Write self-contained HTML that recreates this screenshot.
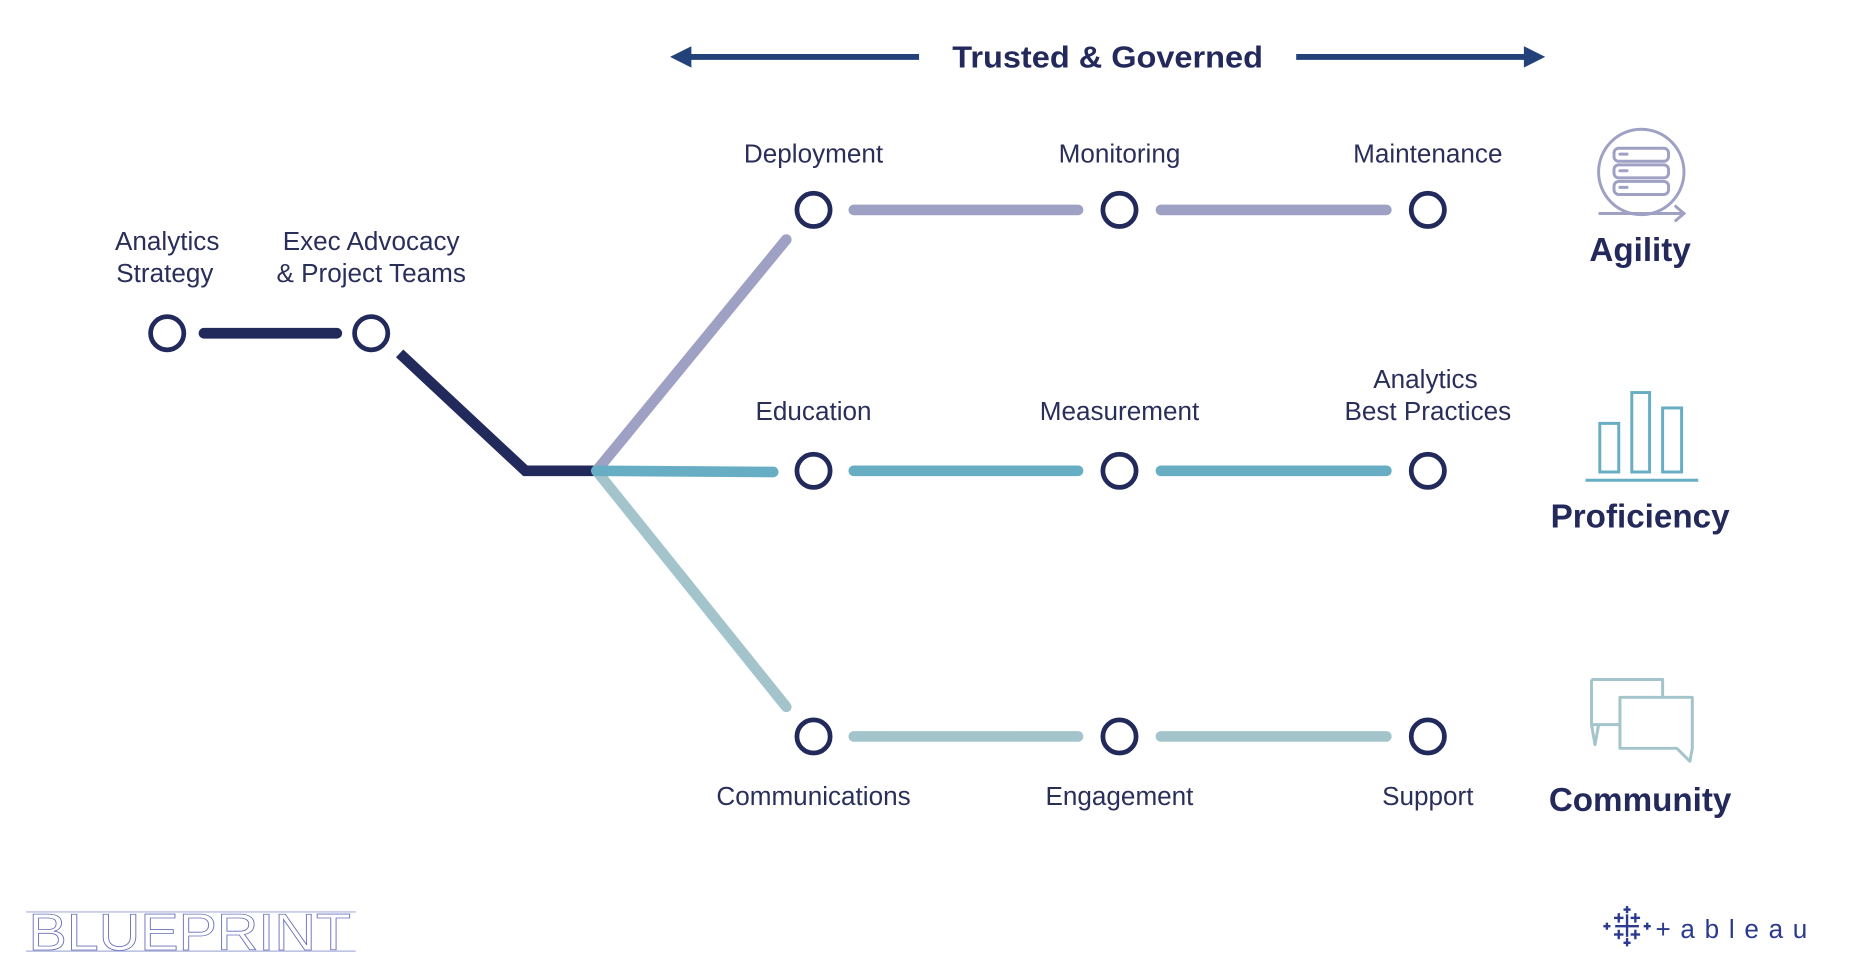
<!DOCTYPE html>
<html><head><meta charset="utf-8"><style>html,body{margin:0;padding:0;background:#fff;width:1850px;height:976px;overflow:hidden}svg{display:block}</style></head>
<body>
<svg width="1850" height="976" viewBox="0 0 1560 823" preserveAspectRatio="none" xmlns="http://www.w3.org/2000/svg" font-family="Liberation Sans, sans-serif">
<g fill="#23427a" stroke="#23427a">
<line x1="575" y1="48" x2="775" y2="48" stroke-width="5"/>
<polygon points="565,48 583,39 583,57" stroke="none"/>
<line x1="1093" y1="48" x2="1293" y2="48" stroke-width="5"/>
<polygon points="1303,48 1285,39 1285,57" stroke="none"/>
</g>
<text x="803" y="57" font-size="26" font-weight="bold" fill="#23295a" textLength="262" lengthAdjust="spacingAndGlyphs">Trusted &amp; Governed</text>
<g fill="none" stroke-linecap="round" stroke-width="9">
<polyline points="172,281 284,281" stroke="#222a5c"/>
<polyline points="337,298 443,397 503,397" stroke="#222a5c" stroke-linecap="butt" stroke-linejoin="miter"/>
<line x1="503" y1="397" x2="663" y2="202" stroke="#9fa1c4"/>
<line x1="720" y1="177" x2="909" y2="177" stroke="#9fa1c4"/>
<line x1="979" y1="177" x2="1169" y2="177" stroke="#9fa1c4"/>
<line x1="503" y1="397" x2="663" y2="596" stroke="#a3c4cb"/>
<line x1="720" y1="621" x2="909" y2="621" stroke="#a3c4cb"/>
<line x1="979" y1="621" x2="1169" y2="621" stroke="#a3c4cb"/>
<line x1="503" y1="397" x2="652" y2="398" stroke="#67aec4"/>
<line x1="720" y1="397" x2="909" y2="397" stroke="#67aec4"/>
<line x1="979" y1="397" x2="1169" y2="397" stroke="#67aec4"/>
</g>
<g fill="#fff" stroke="#222a5c" stroke-width="4">
<circle cx="141" cy="281" r="14"/><circle cx="313" cy="281" r="14"/>
<circle cx="686" cy="177" r="14"/><circle cx="944" cy="177" r="14"/><circle cx="1204" cy="177" r="14"/>
<circle cx="686" cy="397" r="14"/><circle cx="944" cy="397" r="14"/><circle cx="1204" cy="397" r="14"/>
<circle cx="686" cy="621" r="14"/><circle cx="944" cy="621" r="14"/><circle cx="1204" cy="621" r="14"/>
</g>
<g font-size="22" fill="#2a2f5a" text-anchor="middle">
<text x="141" y="211">Analytics</text><text x="139" y="238">Strategy</text>
<text x="313" y="211">Exec Advocacy</text><text x="313" y="238">&amp; Project Teams</text>
<text x="686" y="137">Deployment</text><text x="944" y="137">Monitoring</text><text x="1204" y="137">Maintenance</text>
<text x="686" y="354">Education</text><text x="944" y="354">Measurement</text>
<text x="1202" y="327">Analytics</text><text x="1204" y="354">Best Practices</text>
<text x="686" y="679">Communications</text><text x="944" y="679">Engagement</text><text x="1204" y="679">Support</text>
</g>
<g font-size="28" font-weight="bold" fill="#23295a" text-anchor="middle">
<text x="1383" y="220">Agility</text><text x="1383" y="445">Proficiency</text><text x="1383" y="684">Community</text>
</g>
<g fill="none" stroke="#9fa1c4" stroke-width="2.5" stroke-linecap="round">
<circle cx="1384" cy="145" r="36"/>
<rect x="1361" y="125" width="46" height="11" rx="4"/>
<rect x="1361" y="139" width="46" height="11" rx="4"/>
<rect x="1361" y="153" width="46" height="11" rx="4"/>
<line x1="1366" y1="130" x2="1372" y2="130"/><line x1="1366" y1="144" x2="1372" y2="144"/><line x1="1366" y1="158" x2="1372" y2="158"/>
<line x1="1349" y1="180" x2="1420" y2="180"/>
<polyline points="1413,174 1420,180 1413,186"/>
</g>
<g fill="none" stroke="#67aec4" stroke-width="2.5">
<rect x="1349" y="357" width="16" height="41"/>
<rect x="1376" y="331" width="15" height="67"/>
<rect x="1402" y="344" width="16" height="54"/>
<line x1="1337" y1="405" x2="1432" y2="405"/>
</g>
<g fill="#fff" stroke="#a3c4cb" stroke-width="2.5" stroke-linejoin="round">
<path d="M1342,573 H1402 V588 M1366,611 H1348 L1345,628 L1342,611 Z" fill="none"/>
<path d="M1342,573 V611"/>
<path d="M1366,588 H1427 V631 L1425,642 L1414,631 H1366 Z"/>
</g>
<g stroke="#aab0d8" stroke-width="1">
<line x1="22" y1="769" x2="300" y2="769"/><line x1="22" y1="802" x2="300" y2="802"/>
</g>
<text x="24" y="801" font-size="44" font-weight="normal" fill="none" stroke="#6a70b8" stroke-width="0.7" textLength="272" lengthAdjust="spacingAndGlyphs" transform="translate(0,0)">BLUEPRINT</text>
<g stroke="#2b3a8c" stroke-width="2">
<line x1="1372" y1="771" x2="1372" y2="790"/><line x1="1362" y1="781" x2="1382" y2="781"/>
<line x1="1365" y1="770" x2="1365" y2="778"/><line x1="1361" y1="774" x2="1369" y2="774"/>
<line x1="1379" y1="770" x2="1379" y2="778"/><line x1="1375" y1="774" x2="1383" y2="774"/>
<line x1="1365" y1="784" x2="1365" y2="792"/><line x1="1361" y1="788" x2="1369" y2="788"/>
<line x1="1379" y1="784" x2="1379" y2="792"/><line x1="1375" y1="788" x2="1383" y2="788"/>
<line x1="1372" y1="764" x2="1372" y2="770"/><line x1="1369" y1="767" x2="1375" y2="767"/>
<line x1="1372" y1="791" x2="1372" y2="798"/><line x1="1369" y1="795" x2="1375" y2="795"/>
<line x1="1355" y1="778" x2="1355" y2="784"/><line x1="1352" y1="781" x2="1358" y2="781"/>
<line x1="1389" y1="778" x2="1389" y2="784"/><line x1="1386" y1="781" x2="1392" y2="781"/>
</g>
<text x="1396" y="791" font-size="22" fill="#2b3a8c" textLength="128" lengthAdjust="spacing">+ableau</text>
</svg>
</body></html>
